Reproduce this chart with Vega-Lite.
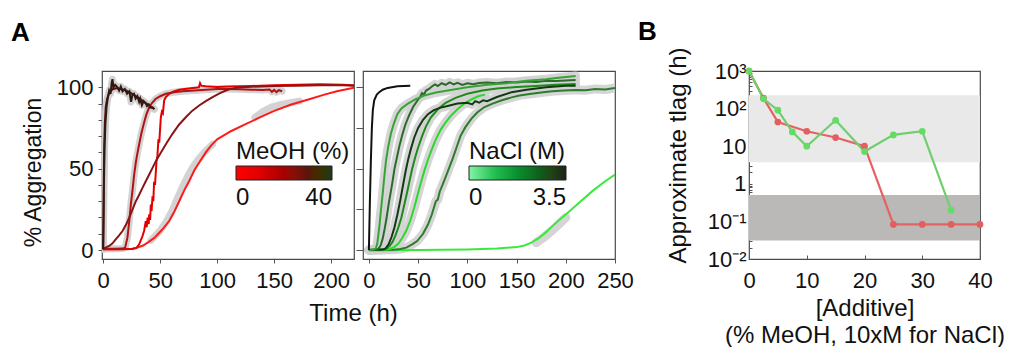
{
  "$schema": "https://vega.github.io/schema/vega-lite/v6.json",
  "autosize": {"type": "pad"},
  "padding": {"left": 10, "top": 18, "right": 5, "bottom": 5},
  "background": "white",
  "config": {
    "font": "Liberation Sans",
    "view": {"stroke": "#4a4a4a", "strokeWidth": 1.2},
    "axis": {"grid": false, "domain": false, "labelFont": "Liberation Sans", "titleFont": "Liberation Sans", "labelFontSize": 22, "titleFontSize": 24, "titleFontWeight": "normal", "labelColor": "#111111", "titleColor": "#111111", "tickColor": "#555555", "tickWidth": 1, "labelFlush": false, "labelOverlap": false},
    "legend": {"labelFont": "Liberation Sans", "titleFont": "Liberation Sans"},
    "title": {"font": "Liberation Sans", "fontSize": 26, "fontWeight": "bold", "color": "#000000"}
  },
  "datasets": {
    "meoh": [
      {"run":"m0","t":0,"y":0.5},{"run":"m0","t":10,"y":0.5},{"run":"m0","t":20,"y":0.6},{"run":"m0","t":26,"y":0.8},{"run":"m0","t":30,"y":1.5},{"run":"m0","t":35,"y":2.8},{"run":"m0","t":40,"y":5},{"run":"m0","t":45,"y":7.5},{"run":"m0","t":49,"y":10.5},{"run":"m0","t":53,"y":13.5},{"run":"m0","t":58,"y":18},{"run":"m0","t":62,"y":23},{"run":"m0","t":66.7,"y":30},{"run":"m0","t":71,"y":36.5},{"run":"m0","t":75.4,"y":42.3},{"run":"m0","t":80,"y":49},{"run":"m0","t":84,"y":53.5},{"run":"m0","t":90,"y":60},{"run":"m0","t":95,"y":64.5},{"run":"m0","t":100,"y":68},{"run":"m0","t":112,"y":73},{"run":"m0","t":124,"y":77},{"run":"m0","t":136,"y":81},{"run":"m0","t":150,"y":85.5},{"run":"m0","t":165,"y":89.4},{"run":"m0","t":180,"y":92.5},{"run":"m0","t":194,"y":95.5},{"run":"m0","t":205,"y":97.5},{"run":"m0","t":220,"y":99.8},
      {"run":"m0r","t":42,"y":6},{"run":"m0r","t":46,"y":9},{"run":"m0r","t":50,"y":12},{"run":"m0r","t":55,"y":17},{"run":"m0r","t":60,"y":23.5},{"run":"m0r","t":65,"y":31.5},{"run":"m0r","t":70,"y":39.5},{"run":"m0r","t":75,"y":46.5},{"run":"m0r","t":80,"y":52.5},{"run":"m0r","t":85,"y":57},{"run":"m0r","t":90,"y":61},{"run":"m0r","t":96,"y":65},
      {"run":"m0s","t":133,"y":81.5},{"run":"m0s","t":140,"y":85},{"run":"m0s","t":148,"y":88},{"run":"m0s","t":156,"y":89.5},{"run":"m0s","t":164,"y":90.5},{"run":"m0s","t":172,"y":91.5},
      {"run":"m5","t":0,"y":0.5},{"run":"m5","t":15,"y":0.5},{"run":"m5","t":25,"y":0.6},{"run":"m5","t":29,"y":1.2},{"run":"m5","t":31.6,"y":3.5},{"run":"m5","t":34.5,"y":8.6},{"run":"m5","t":36,"y":12},{"run":"m5","t":37.4,"y":17.8},{"run":"m5","t":38.2,"y":14},{"run":"m5","t":39,"y":20},{"run":"m5","t":40,"y":16},{"run":"m5","t":40.4,"y":22},{"run":"m5","t":41.2,"y":18.5},{"run":"m5","t":41.8,"y":28},{"run":"m5","t":42.5,"y":24},{"run":"m5","t":43.3,"y":33},{"run":"m5","t":44,"y":30},{"run":"m5","t":44.7,"y":42},{"run":"m5","t":45.5,"y":40},{"run":"m5","t":46.8,"y":54.6},{"run":"m5","t":47.6,"y":58},{"run":"m5","t":48.5,"y":68},{"run":"m5","t":49.2,"y":66},{"run":"m5","t":50.6,"y":81.6},{"run":"m5","t":51.5,"y":85},{"run":"m5","t":52.4,"y":84},{"run":"m5","t":53.5,"y":91.8},{"run":"m5","t":55,"y":94},{"run":"m5","t":57.9,"y":96},{"run":"m5","t":62,"y":97.5},{"run":"m5","t":66.7,"y":98.5},{"run":"m5","t":75,"y":99.3},{"run":"m5","t":84,"y":100},{"run":"m5","t":85,"y":102.5},{"run":"m5","t":86,"y":101},{"run":"m5","t":90,"y":100.6},{"run":"m5","t":100,"y":100.2},{"run":"m5","t":110,"y":100.5},{"run":"m5","t":130,"y":100.8},{"run":"m5","t":150,"y":101.2},{"run":"m5","t":170,"y":101.5},{"run":"m5","t":190,"y":101.8},{"run":"m5","t":210,"y":101.6},{"run":"m5","t":220,"y":101.2},
      {"run":"m10","t":0,"y":0.8},{"run":"m10","t":10,"y":0.8},{"run":"m10","t":17,"y":0.9},{"run":"m10","t":19.3,"y":1.5},{"run":"m10","t":21.3,"y":7.6},{"run":"m10","t":22.8,"y":17},{"run":"m10","t":24.3,"y":28},{"run":"m10","t":25.8,"y":37},{"run":"m10","t":27.2,"y":46.4},{"run":"m10","t":28.7,"y":54},{"run":"m10","t":30.2,"y":60},{"run":"m10","t":31.6,"y":65},{"run":"m10","t":33.8,"y":72.5},{"run":"m10","t":36,"y":78.5},{"run":"m10","t":38,"y":83.5},{"run":"m10","t":40.4,"y":87.7},{"run":"m10","t":43,"y":90.5},{"run":"m10","t":46,"y":92.8},{"run":"m10","t":50,"y":94.5},{"run":"m10","t":55,"y":96},{"run":"m10","t":62,"y":97},{"run":"m10","t":69.6,"y":97.5},{"run":"m10","t":80,"y":98},{"run":"m10","t":90,"y":98.5},{"run":"m10","t":100,"y":99},{"run":"m10","t":110,"y":99},{"run":"m10","t":120,"y":98.8},{"run":"m10","t":130,"y":98.5},{"run":"m10","t":140,"y":98.3},{"run":"m10","t":146,"y":98.6},{"run":"m10","t":148,"y":97.2},{"run":"m10","t":150,"y":98.4},{"run":"m10","t":152,"y":97},{"run":"m10","t":154,"y":98.2},{"run":"m10","t":157,"y":97.6},
      {"run":"m15","t":0,"y":1},{"run":"m15","t":2,"y":1.5},{"run":"m15","t":5.3,"y":2.5},{"run":"m15","t":8,"y":4},{"run":"m15","t":11,"y":6.5},{"run":"m15","t":14,"y":9},{"run":"m15","t":17,"y":11.7},{"run":"m15","t":20,"y":15.5},{"run":"m15","t":22.8,"y":19.8},{"run":"m15","t":25.8,"y":25},{"run":"m15","t":28.7,"y":30},{"run":"m15","t":31.6,"y":34},{"run":"m15","t":34.5,"y":38.2},{"run":"m15","t":37.4,"y":42.3},{"run":"m15","t":40.4,"y":46.4},{"run":"m15","t":43.3,"y":50.5},{"run":"m15","t":46.2,"y":54.6},{"run":"m15","t":49,"y":58},{"run":"m15","t":52,"y":61.5},{"run":"m15","t":55,"y":65},{"run":"m15","t":60.8,"y":71.4},{"run":"m15","t":66.5,"y":77},{"run":"m15","t":72.5,"y":81.6},{"run":"m15","t":78,"y":85.5},{"run":"m15","t":84.2,"y":88.8},{"run":"m15","t":90,"y":91.5},{"run":"m15","t":96,"y":94},{"run":"m15","t":102,"y":96.2},{"run":"m15","t":107.6,"y":98},{"run":"m15","t":112,"y":99},{"run":"m15","t":118,"y":99.8},{"run":"m15","t":130,"y":100.3},{"run":"m15","t":150,"y":100.8},{"run":"m15","t":170,"y":101},{"run":"m15","t":190,"y":101.3},{"run":"m15","t":210,"y":101.2},{"run":"m15","t":220,"y":101},
      {"run":"m30","t":0,"y":0.5},{"run":"m30","t":0.3,"y":20},{"run":"m30","t":0.6,"y":45},{"run":"m30","t":1,"y":65},{"run":"m30","t":1.5,"y":78},{"run":"m30","t":2.3,"y":88},{"run":"m30","t":3.5,"y":93},{"run":"m30","t":5.3,"y":96.5},{"run":"m30","t":7,"y":98},{"run":"m30","t":9,"y":99},{"run":"m30","t":12,"y":99.5},{"run":"m30","t":15,"y":99},{"run":"m30","t":18,"y":98.5},{"run":"m30","t":20,"y":98},{"run":"m30","t":23,"y":97},{"run":"m30","t":26,"y":95.8},{"run":"m30","t":29,"y":94.5},{"run":"m30","t":32,"y":93},{"run":"m30","t":35,"y":91.5},{"run":"m30","t":38,"y":90},{"run":"m30","t":41,"y":88.5},{"run":"m30","t":44,"y":87},
      {"run":"m40","t":0,"y":0.5},{"run":"m40","t":0.3,"y":15},{"run":"m40","t":0.7,"y":40},{"run":"m40","t":1.2,"y":62},{"run":"m40","t":2,"y":78},{"run":"m40","t":3,"y":88},{"run":"m40","t":4,"y":93},{"run":"m40","t":5.3,"y":98},{"run":"m40","t":6.5,"y":96},{"run":"m40","t":7.5,"y":103},{"run":"m40","t":8.2,"y":105},{"run":"m40","t":9,"y":100},{"run":"m40","t":10.5,"y":101.5},{"run":"m40","t":12.6,"y":100},{"run":"m40","t":14,"y":98},{"run":"m40","t":15.5,"y":100.5},{"run":"m40","t":17,"y":97.5},{"run":"m40","t":19,"y":99},{"run":"m40","t":21,"y":96},{"run":"m40","t":23,"y":97.5},{"run":"m40","t":24.5,"y":91},{"run":"m40","t":25.7,"y":95.5},{"run":"m40","t":27,"y":96},{"run":"m40","t":28.5,"y":93},{"run":"m40","t":30,"y":94.5},{"run":"m40","t":31.6,"y":91},{"run":"m40","t":32.5,"y":93},{"run":"m40","t":34,"y":89},{"run":"m40","t":35.5,"y":91.5},{"run":"m40","t":37.4,"y":90},{"run":"m40","t":38.5,"y":88.5},{"run":"m40","t":40,"y":89.5},{"run":"m40","t":41.5,"y":87.5},{"run":"m40","t":43.3,"y":87.7},{"run":"m40","t":45,"y":86.5}
    ],
    "nacl": [
      {"run":"g7","t":0,"y":-0.3},{"run":"g7","t":50,"y":0},{"run":"g7","t":100,"y":0.4},{"run":"g7","t":130,"y":0.9},{"run":"g7","t":150,"y":1.8},{"run":"g7","t":158,"y":2.8},{"run":"g7","t":165,"y":4.5},{"run":"g7","t":173,"y":7.5},{"run":"g7","t":180,"y":11},{"run":"g7","t":186.5,"y":14.7},{"run":"g7","t":193,"y":18.3},{"run":"g7","t":200,"y":21.9},{"run":"g7","t":213.5,"y":29},{"run":"g7","t":227,"y":36.2},{"run":"g7","t":240,"y":42.3},{"run":"g7","t":250,"y":46.4},
      {"run":"g7r","t":170,"y":4.5},{"run":"g7r","t":178,"y":8},{"run":"g7r","t":186,"y":12},{"run":"g7r","t":194,"y":16.5},{"run":"g7r","t":200,"y":20},
      {"run":"g6","t":0,"y":0},{"run":"g6","t":25,"y":0.2},{"run":"g6","t":32,"y":0.6},{"run":"g6","t":38,"y":1.5},{"run":"g6","t":44,"y":3.5},{"run":"g6","t":49,"y":5.5},{"run":"g6","t":55,"y":10},{"run":"g6","t":60,"y":15.7},{"run":"g6","t":64,"y":22},{"run":"g6","t":68,"y":30},{"run":"g6","t":70,"y":31},{"run":"g6","t":72,"y":36},{"run":"g6","t":75,"y":40.3},{"run":"g6","t":78,"y":45},{"run":"g6","t":81.5,"y":50.5},{"run":"g6","t":85,"y":56},{"run":"g6","t":89,"y":63},{"run":"g6","t":93,"y":70},{"run":"g6","t":98,"y":75.5},{"run":"g6","t":104,"y":80.6},{"run":"g6","t":110,"y":84.5},{"run":"g6","t":117,"y":87.7},{"run":"g6","t":125,"y":89.8},{"run":"g6","t":135,"y":92},{"run":"g6","t":145,"y":93.8},{"run":"g6","t":153,"y":95},{"run":"g6","t":165,"y":96},{"run":"g6","t":175,"y":96.8},{"run":"g6","t":186,"y":97.5},{"run":"g6","t":198,"y":98},{"run":"g6","t":210,"y":98.4},{"run":"g6","t":220,"y":98.2},{"run":"g6","t":230,"y":99},{"run":"g6","t":240,"y":98.6},{"run":"g6","t":250,"y":99.6},
      {"run":"g5","t":0,"y":0},{"run":"g5","t":18,"y":0.3},{"run":"g5","t":22,"y":0.8},{"run":"g5","t":26,"y":2},{"run":"g5","t":30,"y":4},{"run":"g5","t":34,"y":7.5},{"run":"g5","t":38,"y":12},{"run":"g5","t":42,"y":18},{"run":"g5","t":46,"y":26},{"run":"g5","t":50,"y":35},{"run":"g5","t":54,"y":44},{"run":"g5","t":57,"y":50},{"run":"g5","t":60,"y":55.5},{"run":"g5","t":64,"y":62},{"run":"g5","t":68,"y":68},{"run":"g5","t":73,"y":74},{"run":"g5","t":78,"y":78.5},{"run":"g5","t":84,"y":83},{"run":"g5","t":90,"y":86.5},{"run":"g5","t":97,"y":90},{"run":"g5","t":104,"y":92.5},{"run":"g5","t":111,"y":94.5},{"run":"g5","t":118,"y":95.5},
      {"run":"g4","t":0,"y":0},{"run":"g4","t":15,"y":0.3},{"run":"g4","t":18,"y":1},{"run":"g4","t":21,"y":2.5},{"run":"g4","t":24,"y":5},{"run":"g4","t":27,"y":9},{"run":"g4","t":30,"y":14},{"run":"g4","t":33,"y":20},{"run":"g4","t":36,"y":28},{"run":"g4","t":39,"y":36},{"run":"g4","t":41.5,"y":43},{"run":"g4","t":44,"y":50},{"run":"g4","t":47,"y":57},{"run":"g4","t":50,"y":63},{"run":"g4","t":54,"y":70},{"run":"g4","t":58,"y":76},{"run":"g4","t":63,"y":81.5},{"run":"g4","t":70,"y":86.5},{"run":"g4","t":78,"y":90.5},{"run":"g4","t":88,"y":93.5},{"run":"g4","t":100,"y":96},{"run":"g4","t":115,"y":98},{"run":"g4","t":130,"y":99.2},{"run":"g4","t":150,"y":100.2},{"run":"g4","t":170,"y":100.8},{"run":"g4","t":190,"y":101.5},{"run":"g4","t":210,"y":102},
      {"run":"g3","t":0,"y":0},{"run":"g3","t":14,"y":0.3},{"run":"g3","t":17,"y":1},{"run":"g3","t":20,"y":3.5},{"run":"g3","t":23,"y":8},{"run":"g3","t":26,"y":14},{"run":"g3","t":29,"y":22},{"run":"g3","t":32,"y":31},{"run":"g3","t":35,"y":41},{"run":"g3","t":37.5,"y":49},{"run":"g3","t":40,"y":56},{"run":"g3","t":42.6,"y":62},{"run":"g3","t":46,"y":69},{"run":"g3","t":50,"y":75},{"run":"g3","t":55,"y":80},{"run":"g3","t":60,"y":83.5},{"run":"g3","t":66,"y":86},{"run":"g3","t":73,"y":87.5},{"run":"g3","t":80,"y":88.5},{"run":"g3","t":90,"y":90},{"run":"g3","t":100,"y":90.5},{"run":"g3","t":105,"y":89.5},{"run":"g3","t":108,"y":91.5},{"run":"g3","t":112,"y":90.5},{"run":"g3","t":116,"y":92},{"run":"g3","t":120,"y":91.5},{"run":"g3","t":130,"y":94},{"run":"g3","t":145,"y":97},{"run":"g3","t":160,"y":98.5},{"run":"g3","t":180,"y":100},{"run":"g3","t":200,"y":101},{"run":"g3","t":210,"y":101},
      {"run":"g2","t":0,"y":0},{"run":"g2","t":8,"y":0.3},{"run":"g2","t":10,"y":1},{"run":"g2","t":12,"y":3},{"run":"g2","t":14,"y":7},{"run":"g2","t":16,"y":13},{"run":"g2","t":18,"y":20},{"run":"g2","t":20,"y":28},{"run":"g2","t":22,"y":35},{"run":"g2","t":24,"y":42},{"run":"g2","t":26,"y":50},{"run":"g2","t":28.5,"y":57},{"run":"g2","t":31,"y":64},{"run":"g2","t":34,"y":71},{"run":"g2","t":37,"y":77},{"run":"g2","t":41,"y":83},{"run":"g2","t":45,"y":88},{"run":"g2","t":50,"y":92.5},{"run":"g2","t":52,"y":94},{"run":"g2","t":54,"y":96.5},{"run":"g2","t":56,"y":95.5},{"run":"g2","t":58,"y":98},{"run":"g2","t":61,"y":99},{"run":"g2","t":64,"y":100.5},{"run":"g2","t":67,"y":101.8},{"run":"g2","t":70,"y":100.8},{"run":"g2","t":74,"y":102.5},{"run":"g2","t":78,"y":101.5},{"run":"g2","t":82,"y":103},{"run":"g2","t":86,"y":101.8},{"run":"g2","t":90,"y":102.8},{"run":"g2","t":95,"y":101.5},{"run":"g2","t":100,"y":102.5},{"run":"g2","t":106,"y":101.8},{"run":"g2","t":112,"y":102.6},{"run":"g2","t":120,"y":103},{"run":"g2","t":130,"y":102.5},{"run":"g2","t":140,"y":103.2},{"run":"g2","t":150,"y":103},{"run":"g2","t":160,"y":103.5},{"run":"g2","t":170,"y":103.2},{"run":"g2","t":180,"y":104},{"run":"g2","t":190,"y":103.8},{"run":"g2","t":200,"y":104.2},{"run":"g2","t":210,"y":104.5},
      {"run":"g1","t":0,"y":0},{"run":"g1","t":5,"y":0.3},{"run":"g1","t":7,"y":1},{"run":"g1","t":8.5,"y":4},{"run":"g1","t":10.5,"y":13.7},{"run":"g1","t":12,"y":23},{"run":"g1","t":13.9,"y":34},{"run":"g1","t":15.5,"y":44},{"run":"g1","t":17.3,"y":54.6},{"run":"g1","t":19.5,"y":63},{"run":"g1","t":22.3,"y":71.4},{"run":"g1","t":25.5,"y":78},{"run":"g1","t":29,"y":83.6},{"run":"g1","t":33,"y":87},{"run":"g1","t":39.3,"y":89.8},{"run":"g1","t":47,"y":92.5},{"run":"g1","t":56,"y":94.9},{"run":"g1","t":68,"y":96.8},{"run":"g1","t":80,"y":98},{"run":"g1","t":100,"y":100},{"run":"g1","t":120,"y":101.5},{"run":"g1","t":140,"y":102.5},{"run":"g1","t":160,"y":104},{"run":"g1","t":180,"y":105},{"run":"g1","t":195,"y":106},{"run":"g1","t":210,"y":107},
      {"run":"n35","t":0,"y":0},{"run":"n35","t":0.5,"y":15},{"run":"n35","t":1,"y":30},{"run":"n35","t":2,"y":55},{"run":"n35","t":3,"y":75},{"run":"n35","t":4,"y":86},{"run":"n35","t":5.4,"y":92},{"run":"n35","t":8,"y":95.5},{"run":"n35","t":10.5,"y":97},{"run":"n35","t":14,"y":98.5},{"run":"n35","t":19,"y":99.6},{"run":"n35","t":29,"y":100.6},{"run":"n35","t":42,"y":101}
    ],
    "meohScale": [{"pct": 0}, {"pct": 40}],
    "naclScale": [{"molar": 0}, {"molar": 3.5}],
    "zones": [
      {"zone": "slow", "lo": 3.76, "hi": 228},
      {"zone": "fast", "lo": 0.031, "hi": 0.505}
    ],
    "lag": [
      {"additive":"MeOH","conc":0,"tlag":1000},{"additive":"MeOH","conc":2.5,"tlag":190},{"additive":"MeOH","conc":5,"tlag":44},{"additive":"MeOH","conc":10,"tlag":25},{"additive":"MeOH","conc":15,"tlag":17},{"additive":"MeOH","conc":20,"tlag":10},{"additive":"MeOH","conc":25,"tlag":0.083},{"additive":"MeOH","conc":30,"tlag":0.083},{"additive":"MeOH","conc":35,"tlag":0.083},{"additive":"MeOH","conc":40,"tlag":0.083},
      {"additive":"NaCl","conc":0,"tlag":1000},{"additive":"NaCl","conc":2.5,"tlag":182},{"additive":"NaCl","conc":5,"tlag":91},{"additive":"NaCl","conc":7.5,"tlag":24},{"additive":"NaCl","conc":10,"tlag":10},{"additive":"NaCl","conc":15,"tlag":49},{"additive":"NaCl","conc":20,"tlag":7.2},{"additive":"NaCl","conc":25,"tlag":20},{"additive":"NaCl","conc":30,"tlag":25},{"additive":"NaCl","conc":35,"tlag":0.2}
    ]
  },
  "spacing": 9,
  "bounds": "flush",
  "resolve": {"scale": {"stroke": "independent", "fill": "independent"}, "legend": {"stroke": "independent", "fill": "independent"}},
  "hconcat": [
    {
      "width": 252,
      "height": 188,
      "title": {"text": "A", "anchor": "start", "frame": "group", "dx": -91, "offset": 4, "baseline": "alphabetic"},
      "resolve": {"scale": {"stroke": "independent", "fill": "independent"}, "axis": {"y": "independent"}},
      "layer": [
        {
          "data": {"name": "meoh"},
          "transform": [{"filter": {"field": "run", "oneOf": ["m0r", "m0s", "m10", "m30", "m40"]}}],
          "mark": {"type": "line", "strokeWidth": 7, "color": "#cecece", "opacity": 0.9, "clip": true, "strokeCap": "round", "strokeJoin": "round"},
          "encoding": {
            "x": {"field": "t", "type": "quantitative", "scale": {"domain": [-1, 220], "nice": false, "zero": false},
              "axis": {"values": [0, 25, 50, 75, 100, 125, 150, 175, 200], "labelExpr": "datum.value % 50 === 0 ? datum.label : ''", "labelOverlap": false, "tickSize": 4, "labelPadding": 7, "title": "Time (h)", "titleX": 251, "titleY": 61, "titleAlign": "center", "titleBaseline": "alphabetic"}},
            "y": {"field": "y", "type": "quantitative", "scale": {"domain": [-5.5, 110], "nice": false, "zero": false},
              "axis": {"orient": "left", "values": [0, 50, 100], "labelOverlap": false, "tickSize": 4, "labelPadding": 5, "title": "% Aggregation", "titleFontSize": 23, "titleX": -62, "titleY": 101, "titleAngle": -90, "titleAlign": "center", "titleBaseline": "alphabetic"}},
            "detail": {"field": "run"}
          }
        },
        {
          "data": {"name": "meoh"},
          "transform": [{"filter": {"field": "run", "oneOf": ["m0", "m5", "m10", "m15", "m30", "m40"]}}],
          "mark": {"type": "line", "strokeWidth": 2, "clip": true},
          "encoding": {
            "x": {"field": "t", "type": "quantitative"},
            "y": {"field": "y", "type": "quantitative",
              "axis": {"orient": "left", "values": [10, 20, 30, 40, 60, 70, 80, 90], "labels": false, "tickSize": 4, "title": null}},
            "stroke": {"field": "run", "type": "nominal", "legend": null,
              "scale": {"domain": ["m0", "m5", "m10", "m15", "m30", "m40"], "range": ["#ff1a1a", "#e30000", "#b31212", "#8c1414", "#5e1010", "#2e1a12"]}}
          }
        },
        {
          "data": {"name": "meohScale"},
          "mark": {"type": "point", "filled": true, "size": 0, "opacity": 1},
          "encoding": {
            "fill": {"field": "pct", "type": "quantitative",
              "scale": {"domain": [0, 10, 20, 30, 40], "range": ["#ff0000", "#e00000", "#a80000", "#5a140c", "#1e3a1e"]},
              "legend": {"orient": "none", "legendX": 134, "legendY": 69, "direction": "horizontal", "padding": 0,
                "title": "MeOH (%)", "titleFontSize": 24, "titleFontWeight": "normal", "titleColor": "#111111", "titlePadding": 2,
                "gradientLength": 96, "gradientThickness": 14, "gradientStrokeColor": "#222222", "gradientStrokeWidth": 1, "gradientOpacity": 1,
                "values": [0, 40], "labelExpr": "'' + datum.value", "labelFontSize": 24, "labelOffset": 6, "labelColor": "#111111"}}
          }
        }
      ]
    },
    {
      "width": 252,
      "height": 188,
      "resolve": {"scale": {"stroke": "independent", "fill": "independent"}},
      "layer": [
        {
          "data": {"name": "nacl"},
          "transform": [{"filter": {"field": "run", "oneOf": ["g1", "g2", "g3", "g4", "g5", "g6", "g7r"]}}],
          "mark": {"type": "line", "strokeWidth": 9, "color": "#d0d0d0", "opacity": 0.9, "clip": true, "strokeCap": "round", "strokeJoin": "round"},
          "encoding": {
            "x": {"field": "t", "type": "quantitative", "scale": {"domain": [-6, 250], "nice": false, "zero": false},
              "axis": {"values": [0, 25, 50, 75, 100, 125, 150, 175, 200, 225, 250], "labelExpr": "datum.value % 50 === 0 ? datum.label : ''", "labelOverlap": false, "tickSize": 4, "labelPadding": 7, "title": null}},
            "y": {"field": "y", "type": "quantitative", "scale": {"domain": [-5.5, 110], "nice": false, "zero": false},
              "axis": {"values": [0, 25, 50, 75, 100], "labels": false, "tickSize": 7, "title": null}},
            "detail": {"field": "run"}
          }
        },
        {
          "data": {"name": "nacl"},
          "transform": [{"filter": {"field": "run", "oneOf": ["g7", "g6", "g5", "g4", "g3", "g2", "g1", "n35"]}}],
          "mark": {"type": "line", "strokeWidth": 2, "clip": true},
          "encoding": {
            "x": {"field": "t", "type": "quantitative"},
            "y": {"field": "y", "type": "quantitative"},
            "stroke": {"field": "run", "type": "nominal", "legend": null,
              "scale": {"domain": ["g7", "g6", "g5", "g4", "g3", "g2", "g1", "n35"], "range": ["#3aea3a", "#2c7c2c", "#2bd92b", "#1e8a1e", "#123a12", "#2a6a2a", "#36a336", "#111111"]}}
          }
        },
        {
          "data": {"name": "naclScale"},
          "mark": {"type": "point", "filled": true, "size": 0, "opacity": 1},
          "encoding": {
            "fill": {"field": "molar", "type": "quantitative",
              "scale": {"domain": [0, 0.875, 1.75, 2.625, 3.5], "range": ["#80f5a5", "#22c254", "#07902f", "#0f5a1c", "#1c2414"]},
              "legend": {"orient": "none", "legendX": 106, "legendY": 69, "direction": "horizontal", "padding": 0,
                "title": "NaCl (M)", "titleFontSize": 24, "titleFontWeight": "normal", "titleColor": "#111111", "titlePadding": 2,
                "gradientLength": 97, "gradientThickness": 14, "gradientStrokeColor": "#222222", "gradientStrokeWidth": 1, "gradientOpacity": 1,
                "values": [0, 3.5], "labelExpr": "'' + datum.value", "labelFontSize": 24, "labelOffset": 6, "labelColor": "#111111"}}
          }
        }
      ]
    },
    {
      "width": 116,
      "height": 188,
      "view": {"stroke": null},
      "data": {"values": []},
      "mark": "point"
    },
    {
      "width": 231,
      "height": 188,
      "title": {"text": "B", "anchor": "start", "frame": "group", "dx": -111, "offset": -19, "baseline": "alphabetic"},
      "resolve": {"scale": {"stroke": "independent", "fill": "independent"}},
      "layer": [
        {
          "data": {"name": "zones"},
          "mark": {"type": "rect"},
          "encoding": {
            "y": {"field": "lo", "type": "quantitative", "scale": {"type": "log", "domain": [0.01, 1000], "nice": false},
              "axis": {"values": [0.01, 0.02, 0.03, 0.04, 0.05, 0.06, 0.07, 0.08, 0.09, 0.1, 0.2, 0.3, 0.4, 0.5, 0.6, 0.7, 0.8, 0.9, 1, 2, 3, 4, 5, 6, 7, 8, 9, 10, 20, 30, 40, 50, 60, 70, 80, 90, 100, 200, 300, 400, 500, 600, 700, 800, 900, 1000],
                "labelExpr": "datum.value == 1000 ? '10³' : datum.value == 100 ? '10²' : datum.value == 10 ? '10' : datum.value == 1 ? '1' : datum.value == 0.1 ? '10⁻¹' : datum.value == 0.01 ? '10⁻²' : ''",
                "labelOverlap": false, "tickSize": -3, "labelPadding": 6, "title": "Approximate tlag (h)", "titleX": -64, "titleY": 84, "titleAngle": -90, "titleAlign": "center", "titleBaseline": "alphabetic"}},
            "y2": {"field": "hi"},
            "fill": {"field": "zone", "type": "nominal", "legend": null, "scale": {"domain": ["slow", "fast"], "range": ["#e9e9e9", "#bbb8b8"]}}
          }
        },
        {
          "data": {"name": "lag"},
          "mark": {"type": "line", "strokeWidth": 2.2},
          "encoding": {
            "x": {"field": "conc", "type": "quantitative", "scale": {"domain": [0, 40], "nice": false, "zero": false},
              "axis": {"values": [0, 2.5, 5, 7.5, 10, 12.5, 15, 17.5, 20, 22.5, 25, 27.5, 30, 32.5, 35, 37.5, 40], "labelExpr": "datum.value % 10 === 0 ? datum.label : ''", "labelOverlap": false, "tickSize": -4, "labelPadding": 15,
                "title": ["[Additive]", "(% MeOH, 10xM for NaCl)"], "titleY": 56, "titleBaseline": "alphabetic", "titleLineHeight": 27}},
            "y": {"field": "tlag", "type": "quantitative", "scale": {"type": "log", "domain": [0.01, 1000], "nice": false}},
            "stroke": {"field": "additive", "type": "nominal", "legend": null, "scale": {"domain": ["MeOH", "NaCl"], "range": ["#e66262", "#6fcf6f"]}}
          }
        },
        {
          "data": {"name": "lag"},
          "mark": {"type": "point", "filled": true, "size": 45, "opacity": 1},
          "encoding": {
            "x": {"field": "conc", "type": "quantitative"},
            "y": {"field": "tlag", "type": "quantitative"},
            "fill": {"field": "additive", "type": "nominal", "legend": null, "scale": {"domain": ["MeOH", "NaCl"], "range": ["#e35f5f", "#62dc62"]}}
          }
        }
      ]
    }
  ]
}
